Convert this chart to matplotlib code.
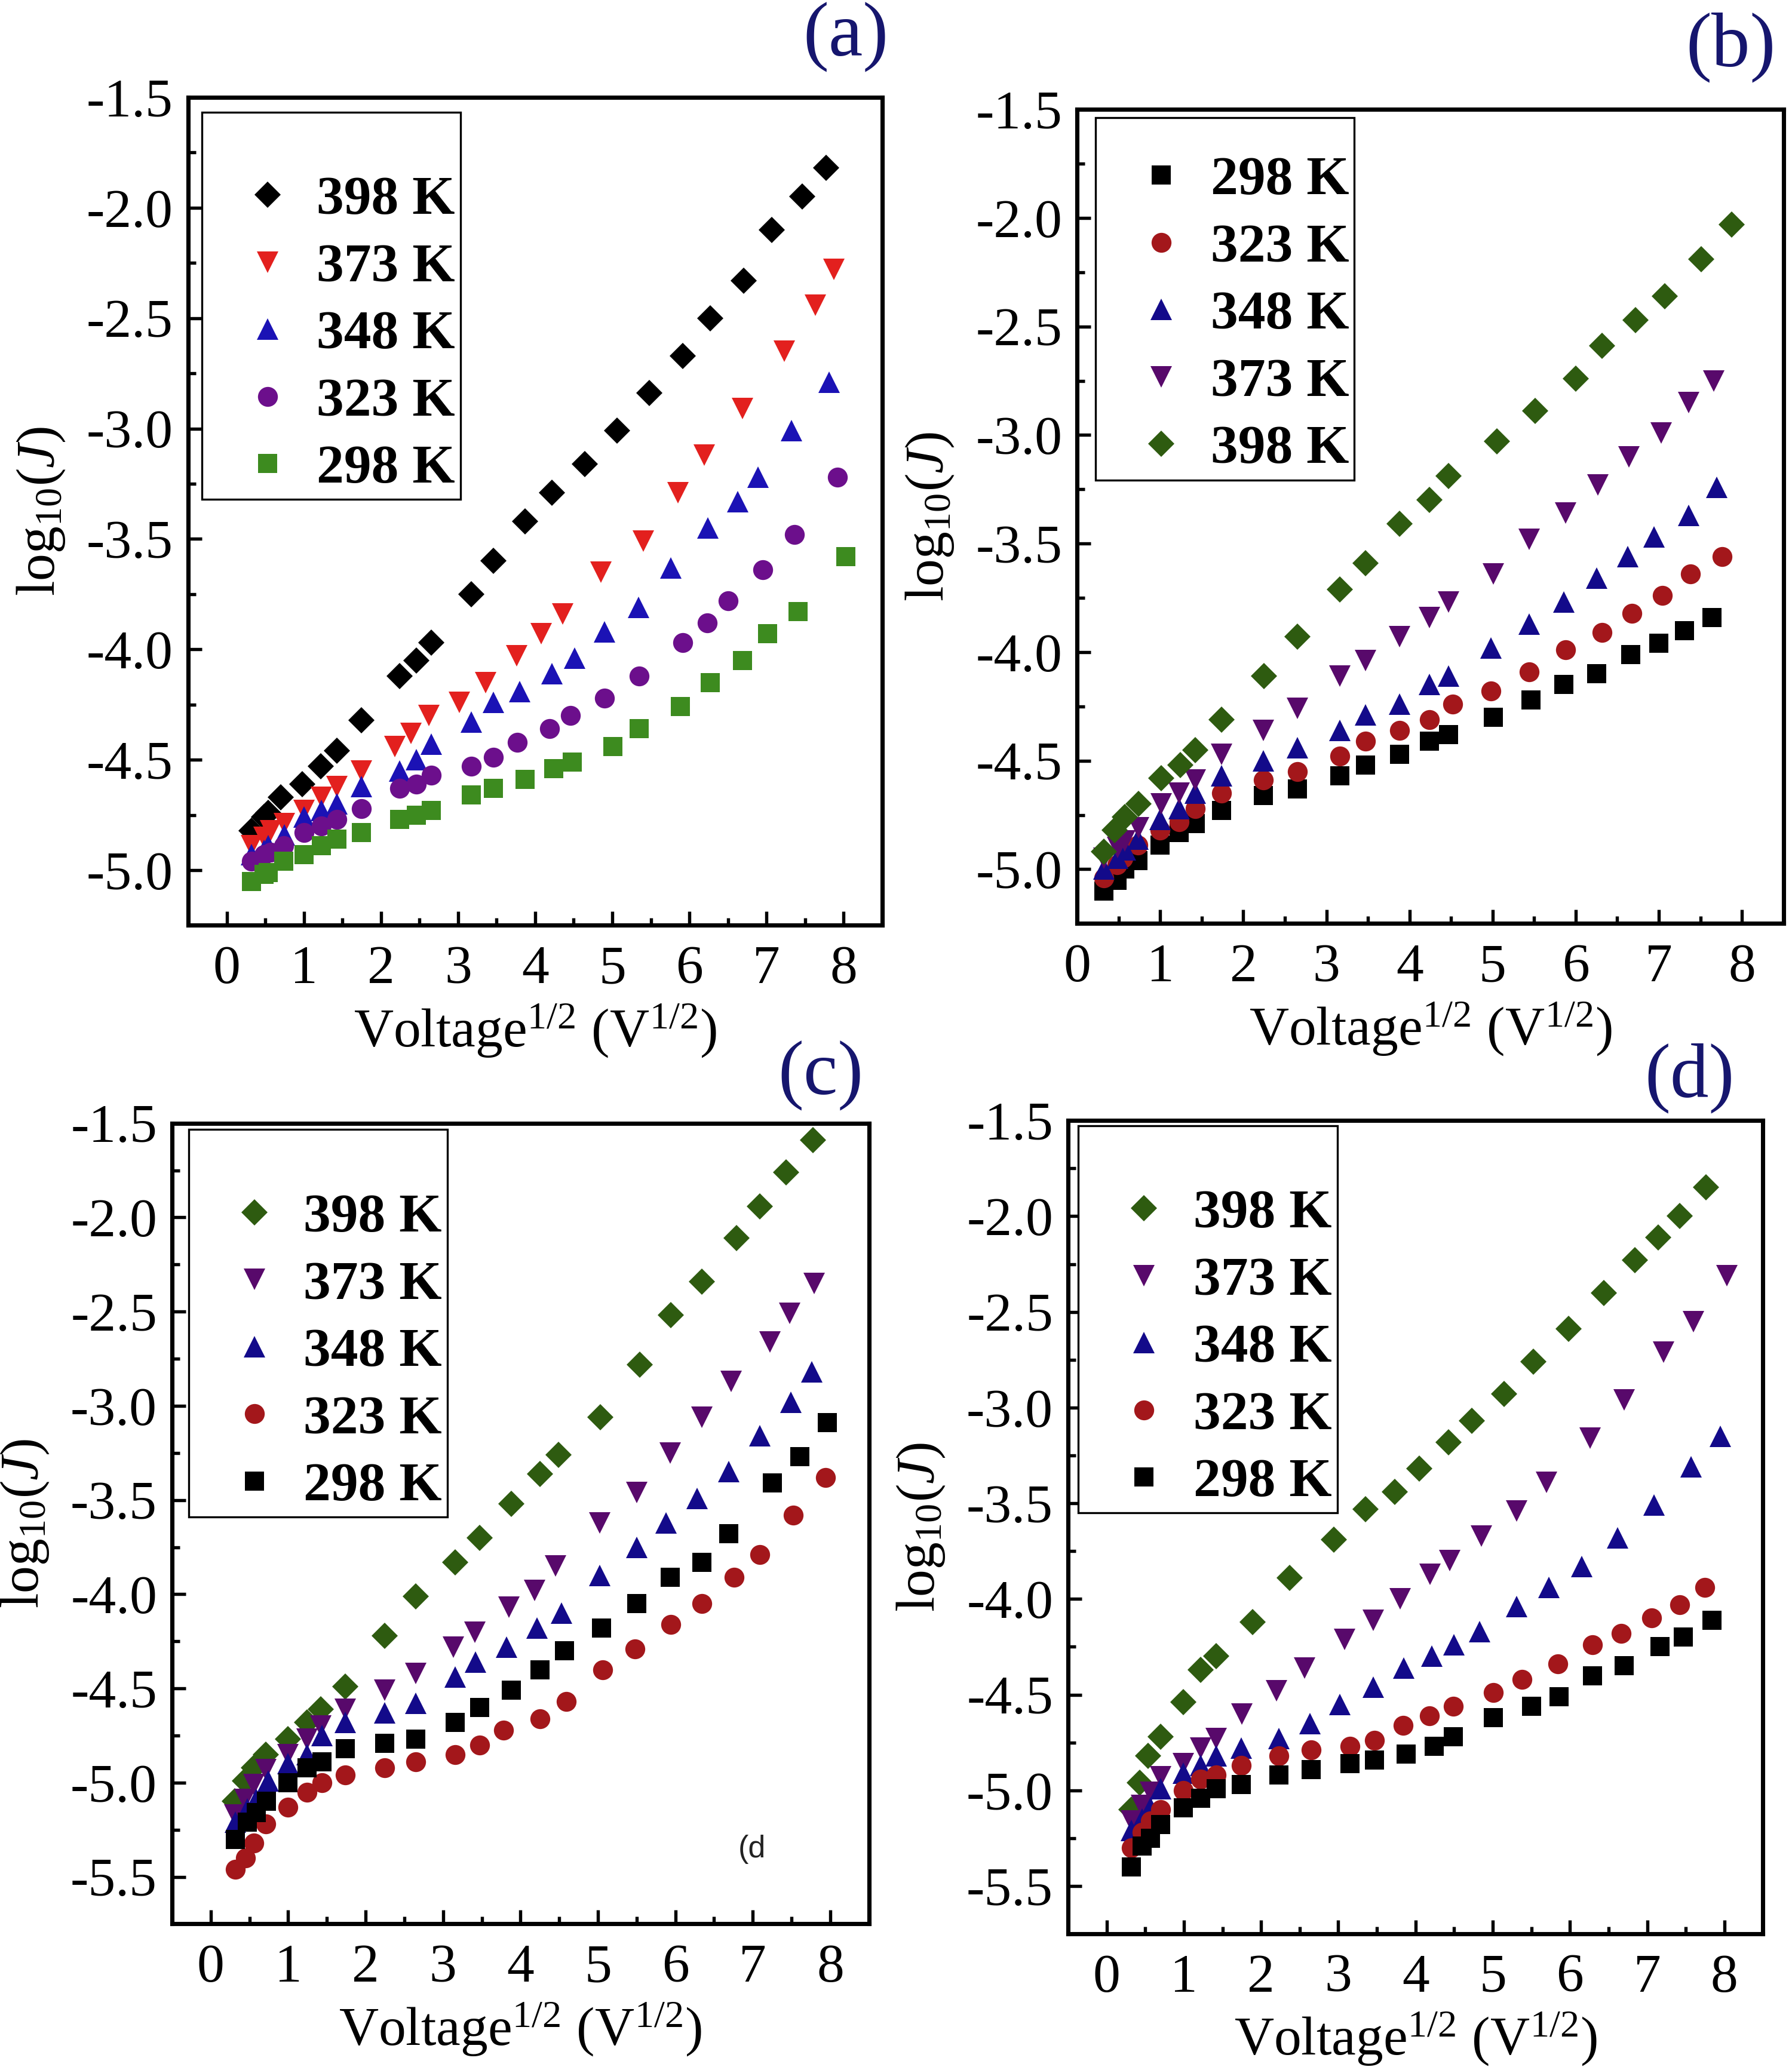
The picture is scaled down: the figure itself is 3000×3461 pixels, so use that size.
import matplotlib
matplotlib.use("Agg")
import matplotlib.pyplot as plt
from matplotlib.ticker import MultipleLocator

plt.rcParams['font.family'] = ['Liberation Serif', 'DejaVu Serif']
plt.rcParams['axes.unicode_minus'] = False
plt.rcParams['mathtext.fontset'] = 'custom'
plt.rcParams['mathtext.rm'] = 'Liberation Serif'
plt.rcParams['mathtext.it'] = 'Liberation Serif:italic'
plt.rcParams['mathtext.bf'] = 'Liberation Serif:bold'

# ---- panel (a) ----
a398_x = [0.32, 0.48, 0.54, 0.70, 0.98, 1.22, 1.43, 1.75, 2.24, 2.46, 2.65, 3.17, 3.46, 3.87, 4.22, 4.64, 5.06, 5.48, 5.91, 6.27, 6.70, 7.07, 7.46, 7.77]
a398_y = [-4.82, -4.76, -4.74, -4.67, -4.61, -4.53, -4.46, -4.32, -4.12, -4.05, -3.97, -3.75, -3.60, -3.42, -3.29, -3.16, -3.01, -2.84, -2.67, -2.50, -2.33, -2.10, -1.95, -1.82]
a373_x = [0.32, 0.48, 0.57, 0.75, 1.00, 1.23, 1.43, 1.75, 2.18, 2.39, 2.62, 3.02, 3.36, 3.76, 4.08, 4.36, 4.85, 5.40, 5.85, 6.19, 6.69, 7.23, 7.63, 7.87]
a373_y = [-4.89, -4.85, -4.82, -4.79, -4.73, -4.67, -4.62, -4.55, -4.44, -4.38, -4.30, -4.24, -4.15, -4.03, -3.93, -3.84, -3.65, -3.51, -3.29, -3.12, -2.91, -2.65, -2.44, -2.28]
a348_x = [0.32, 0.48, 0.54, 0.75, 1.00, 1.23, 1.43, 1.75, 2.24, 2.46, 2.65, 3.17, 3.46, 3.80, 4.22, 4.51, 4.90, 5.34, 5.76, 6.24, 6.63, 6.89, 7.32, 7.81]
a348_y = [-4.93, -4.91, -4.89, -4.84, -4.76, -4.73, -4.70, -4.62, -4.55, -4.50, -4.43, -4.33, -4.24, -4.19, -4.11, -4.04, -3.92, -3.81, -3.63, -3.45, -3.33, -3.22, -3.01, -2.79]
a323_x = [0.32, 0.48, 0.57, 0.74, 1.00, 1.23, 1.43, 1.75, 2.24, 2.46, 2.65, 3.17, 3.46, 3.77, 4.19, 4.46, 4.90, 5.35, 5.91, 6.23, 6.50, 6.95, 7.36, 7.92]
a323_y = [-4.96, -4.93, -4.92, -4.89, -4.83, -4.80, -4.77, -4.72, -4.63, -4.61, -4.57, -4.53, -4.49, -4.42, -4.36, -4.30, -4.22, -4.12, -3.97, -3.88, -3.78, -3.64, -3.48, -3.22]
a298_x = [0.32, 0.48, 0.54, 0.74, 1.00, 1.23, 1.43, 1.75, 2.24, 2.46, 2.65, 3.17, 3.46, 3.87, 4.24, 4.48, 5.01, 5.35, 5.88, 6.27, 6.69, 7.01, 7.41, 8.03]
a298_y = [-5.05, -5.02, -5.01, -4.96, -4.93, -4.89, -4.86, -4.83, -4.77, -4.75, -4.73, -4.66, -4.63, -4.59, -4.54, -4.51, -4.44, -4.36, -4.26, -4.15, -4.05, -3.93, -3.83, -3.58]

# ---- panel (b) ----
b298_x = [0.32, 0.48, 0.57, 0.73, 1.00, 1.23, 1.42, 1.74, 2.24, 2.65, 3.16, 3.47, 3.88, 4.24, 4.47, 5.01, 5.46, 5.86, 6.25, 6.66, 7.00, 7.31, 7.64]
b298_y = [-5.10, -5.05, -5.00, -4.96, -4.89, -4.83, -4.79, -4.73, -4.66, -4.63, -4.57, -4.52, -4.47, -4.41, -4.38, -4.30, -4.22, -4.15, -4.10, -4.01, -3.96, -3.90, -3.84]
b323_x = [0.32, 0.48, 0.55, 0.73, 1.00, 1.23, 1.42, 1.74, 2.24, 2.65, 3.16, 3.47, 3.88, 4.24, 4.52, 4.98, 5.44, 5.88, 6.32, 6.68, 7.04, 7.38, 7.76]
b323_y = [-5.04, -4.98, -4.95, -4.89, -4.82, -4.78, -4.72, -4.65, -4.59, -4.55, -4.48, -4.41, -4.36, -4.31, -4.24, -4.18, -4.09, -3.99, -3.91, -3.82, -3.74, -3.64, -3.56]
b348_x = [0.32, 0.49, 0.58, 0.73, 1.00, 1.23, 1.42, 1.74, 2.24, 2.65, 3.16, 3.47, 3.88, 4.24, 4.47, 4.98, 5.44, 5.86, 6.25, 6.63, 6.94, 7.36, 7.70]
b348_y = [-5.00, -4.95, -4.91, -4.86, -4.77, -4.72, -4.65, -4.57, -4.50, -4.44, -4.36, -4.29, -4.24, -4.15, -4.11, -3.98, -3.87, -3.77, -3.66, -3.56, -3.47, -3.37, -3.24]
b373_x = [0.32, 0.49, 0.57, 0.74, 1.01, 1.23, 1.42, 1.74, 2.24, 2.65, 3.16, 3.47, 3.88, 4.24, 4.47, 5.01, 5.44, 5.88, 6.27, 6.64, 7.03, 7.36, 7.66]
b373_y = [-4.95, -4.90, -4.87, -4.81, -4.70, -4.65, -4.59, -4.47, -4.36, -4.26, -4.11, -4.04, -3.93, -3.84, -3.77, -3.64, -3.48, -3.36, -3.23, -3.10, -2.99, -2.85, -2.75]
b398_x = [0.32, 0.45, 0.57, 0.74, 1.01, 1.24, 1.42, 1.74, 2.25, 2.65, 3.16, 3.47, 3.88, 4.24, 4.47, 5.05, 5.51, 6.00, 6.32, 6.72, 7.07, 7.51, 7.88]
b398_y = [-4.92, -4.82, -4.76, -4.70, -4.58, -4.52, -4.45, -4.31, -4.11, -3.93, -3.71, -3.59, -3.41, -3.30, -3.19, -3.03, -2.89, -2.74, -2.59, -2.47, -2.36, -2.19, -2.03]

# ---- panel (c) ----
c398_x = [0.31, 0.44, 0.56, 0.71, 1.00, 1.24, 1.42, 1.74, 2.25, 2.65, 3.16, 3.47, 3.88, 4.25, 4.49, 5.03, 5.54, 5.94, 6.34, 6.79, 7.09, 7.43, 7.78]
c398_y = [-5.10, -4.99, -4.92, -4.85, -4.77, -4.68, -4.61, -4.49, -4.22, -4.01, -3.83, -3.70, -3.52, -3.36, -3.26, -3.06, -2.78, -2.52, -2.34, -2.11, -1.94, -1.76, -1.59]
c373_x = [0.31, 0.44, 0.56, 0.71, 1.00, 1.24, 1.42, 1.74, 2.25, 2.65, 3.13, 3.41, 3.85, 4.18, 4.45, 5.02, 5.50, 5.93, 6.34, 6.72, 7.22, 7.48, 7.79]
c373_y = [-5.17, -5.09, -5.01, -4.93, -4.85, -4.77, -4.70, -4.61, -4.51, -4.42, -4.28, -4.20, -4.07, -3.98, -3.85, -3.62, -3.46, -3.25, -3.06, -2.87, -2.66, -2.51, -2.35]
c348_x = [0.32, 0.47, 0.59, 0.74, 1.00, 1.24, 1.44, 1.74, 2.25, 2.65, 3.16, 3.42, 3.82, 4.21, 4.53, 5.02, 5.50, 5.88, 6.28, 6.69, 7.09, 7.49, 7.76]
c348_y = [-5.21, -5.14, -5.09, -4.99, -4.90, -4.85, -4.75, -4.68, -4.63, -4.58, -4.44, -4.36, -4.28, -4.18, -4.10, -3.90, -3.75, -3.62, -3.49, -3.35, -3.16, -2.98, -2.82]
c323_x = [0.32, 0.45, 0.56, 0.71, 1.00, 1.24, 1.44, 1.74, 2.25, 2.65, 3.16, 3.47, 3.78, 4.25, 4.59, 5.06, 5.48, 5.94, 6.34, 6.76, 7.09, 7.52, 7.94]
c323_y = [-5.46, -5.40, -5.32, -5.22, -5.13, -5.05, -5.00, -4.96, -4.92, -4.89, -4.85, -4.80, -4.72, -4.66, -4.57, -4.40, -4.29, -4.16, -4.05, -3.91, -3.79, -3.58, -3.38]
c298_x = [0.32, 0.47, 0.59, 0.72, 1.00, 1.24, 1.44, 1.74, 2.25, 2.65, 3.16, 3.47, 3.88, 4.25, 4.57, 5.05, 5.50, 5.93, 6.34, 6.69, 7.25, 7.61, 7.96]
c298_y = [-5.30, -5.21, -5.16, -5.10, -5.00, -4.92, -4.89, -4.82, -4.79, -4.77, -4.68, -4.60, -4.51, -4.40, -4.30, -4.18, -4.05, -3.91, -3.83, -3.68, -3.41, -3.27, -3.09]

# ---- panel (d) ----
d398_x = [0.32, 0.43, 0.54, 0.70, 0.99, 1.22, 1.42, 1.89, 2.37, 2.94, 3.35, 3.73, 4.05, 4.43, 4.73, 5.15, 5.53, 5.98, 6.44, 6.84, 7.14, 7.42, 7.76]
d398_y = [-5.10, -4.96, -4.82, -4.72, -4.54, -4.37, -4.30, -4.12, -3.89, -3.69, -3.53, -3.44, -3.32, -3.18, -3.07, -2.93, -2.76, -2.59, -2.40, -2.23, -2.11, -2.00, -1.85]
d373_x = [0.32, 0.45, 0.57, 0.70, 0.99, 1.22, 1.42, 1.75, 2.20, 2.56, 3.08, 3.45, 3.80, 4.19, 4.44, 4.85, 5.31, 5.70, 6.26, 6.70, 7.21, 7.60, 8.03]
d373_y = [-5.16, -5.08, -5.01, -4.93, -4.86, -4.78, -4.73, -4.60, -4.48, -4.36, -4.21, -4.11, -4.00, -3.87, -3.80, -3.67, -3.54, -3.39, -3.16, -2.96, -2.71, -2.55, -2.31]
d348_x = [0.32, 0.46, 0.57, 0.70, 0.99, 1.22, 1.42, 1.74, 2.23, 2.63, 3.02, 3.45, 3.85, 4.21, 4.50, 4.83, 5.31, 5.73, 6.15, 6.62, 7.09, 7.57, 7.95]
d348_y = [-5.21, -5.15, -5.09, -4.99, -4.91, -4.87, -4.82, -4.78, -4.73, -4.65, -4.55, -4.46, -4.36, -4.30, -4.24, -4.17, -4.04, -3.94, -3.83, -3.68, -3.51, -3.31, -3.15]
d323_x = [0.32, 0.46, 0.57, 0.70, 0.99, 1.22, 1.42, 1.74, 2.23, 2.65, 3.15, 3.47, 3.84, 4.18, 4.49, 5.01, 5.38, 5.84, 6.29, 6.66, 7.06, 7.42, 7.75]
d323_y = [-5.30, -5.22, -5.16, -5.10, -5.00, -4.94, -4.92, -4.87, -4.82, -4.79, -4.77, -4.74, -4.66, -4.61, -4.56, -4.49, -4.42, -4.34, -4.24, -4.18, -4.10, -4.03, -3.94]
d298_x = [0.32, 0.46, 0.57, 0.70, 0.99, 1.22, 1.42, 1.74, 2.23, 2.65, 3.15, 3.47, 3.88, 4.24, 4.49, 5.01, 5.50, 5.86, 6.29, 6.70, 7.17, 7.47, 7.84]
d298_y = [-5.40, -5.29, -5.25, -5.18, -5.09, -5.04, -4.99, -4.97, -4.92, -4.89, -4.86, -4.84, -4.81, -4.77, -4.72, -4.62, -4.56, -4.51, -4.40, -4.35, -4.25, -4.20, -4.11]

# marker / colour styles per temperature
mk = {'398 K': 'D', '373 K': 'v', '348 K': '^', '323 K': 'o', '298 K': 's'}
ms = {'398 K': 7.4, '373 K': 8.6, '348 K': 8.6, '323 K': 8.0, '298 K': 7.6}
cols_a = {'398 K': '#000000', '373 K': '#e3201e', '348 K': '#1b12b5', '323 K': '#6c0f8c', '298 K': '#3d8b1f'}
cols_dark = {'398 K': '#2e5b10', '373 K': '#58096b', '348 K': '#130a8a', '323 K': '#a3171b', '298 K': '#000000'}

panels = [
    dict(rect=[0.1050, 0.5523, 0.3873, 0.4006], xlim=(-0.5, 8.5), ylim=(-5.25, -1.5),
         series=[('398 K', a398_x, a398_y), ('373 K', a373_x, a373_y), ('348 K', a348_x, a348_y),
                 ('323 K', a323_x, a323_y), ('298 K', a298_x, a298_y)],
         cols=cols_a, leg=(0.0196, 0.982), title_fs=18, tag='(a)', tag_xy=(0.472, 0.982)),
    dict(rect=[0.6011, 0.5532, 0.3941, 0.3939], xlim=(0, 8.5), ylim=(-5.25, -1.5),
         series=[('298 K', b298_x, b298_y), ('323 K', b323_x, b323_y), ('348 K', b348_x, b348_y),
                 ('373 K', b373_x, b373_y), ('398 K', b398_x, b398_y)],
         cols=cols_dark, leg=(0.026, 0.990), title_fs=7, tag='(b)', tag_xy=(0.966, 0.977)),
    dict(rect=[0.0960, 0.0692, 0.3889, 0.3874], xlim=(-0.5, 8.5), ylim=(-5.75, -1.5),
         series=[('398 K', c398_x, c398_y), ('373 K', c373_x, c373_y), ('348 K', c348_x, c348_y),
                 ('323 K', c323_x, c323_y), ('298 K', c298_x, c298_y)],
         cols=cols_dark, leg=(0.0237, 0.992), title_fs=18, tag='(c)', tag_xy=(0.458, 0.4796)),
    dict(rect=[0.5960, 0.0644, 0.3878, 0.3935], xlim=(-0.5, 8.5), ylim=(-5.75, -1.5),
         series=[('398 K', d398_x, d398_y), ('373 K', d373_x, d373_y), ('348 K', d348_x, d348_y),
                 ('323 K', d323_x, d323_y), ('298 K', d298_x, d298_y)],
         cols=cols_dark, leg=(0.015, 0.9935), title_fs=18, tag='(d)', tag_xy=(0.943, 0.4783)),
]

fig = plt.figure(figsize=(10, 3461 / 300), dpi=300)

for p in panels:
    ax = fig.add_axes(p['rect'])
    handles = []
    for name, xs, ys in p['series']:
        h, = ax.plot(xs, ys, linestyle='none', marker=mk[name], ms=ms[name],
                     color=p['cols'][name], markeredgewidth=0, label=name)
        handles.append(h)
    ax.set_xlim(*p['xlim'])
    ax.set_ylim(*p['ylim'])
    ax.xaxis.set_major_locator(MultipleLocator(1))
    ax.xaxis.set_minor_locator(MultipleLocator(0.5))
    ax.yaxis.set_major_locator(MultipleLocator(0.5))
    ax.yaxis.set_minor_locator(MultipleLocator(0.25))
    ax.yaxis.set_major_formatter(plt.FormatStrFormatter('%.1f'))
    ax.tick_params(which='both', direction='in', top=False, right=False, width=1.3)
    ax.tick_params(which='major', length=5.5, labelsize=22)
    ax.tick_params(which='minor', length=3)
    ax.tick_params(axis='x', which='major', pad=8)
    ax.tick_params(axis='y', which='major', pad=6)
    for sp in ax.spines.values():
        sp.set_linewidth(1.7)
    ax.set_xlabel('Voltage$^{1/2}$ (V$^{1/2}$)', fontsize=22, labelpad=3)
    ax.set_ylabel('log$_{10}$($J$)', fontsize=22, labelpad=8)

    leg = ax.legend(handles=handles, loc='upper left', bbox_to_anchor=p['leg'],
                    borderaxespad=0, numpoints=1, frameon=True, fancybox=False,
                    edgecolor='black', framealpha=1,
                    prop={'family': 'Liberation Serif', 'weight': 'bold', 'size': 22},
                    borderpad=0.1, handlelength=2.2, handletextpad=-0.2,
                    labelspacing=0.32, title=' ', title_fontsize=p['title_fs'])
    leg.get_frame().set_linewidth(0.8)

    fig.text(p['tag_xy'][0], p['tag_xy'][1], p['tag'], ha='center', va='center',
             fontsize=31, color='#16166e')

# stray label inside panel (c)
fig.axes[2].text(0.832, 0.093, '(d', transform=fig.axes[2].transAxes, ha='center', va='center',
                 fontsize=12.5, family='Liberation Sans', color='#222222')

fig.savefig('out.png', dpi=300)
